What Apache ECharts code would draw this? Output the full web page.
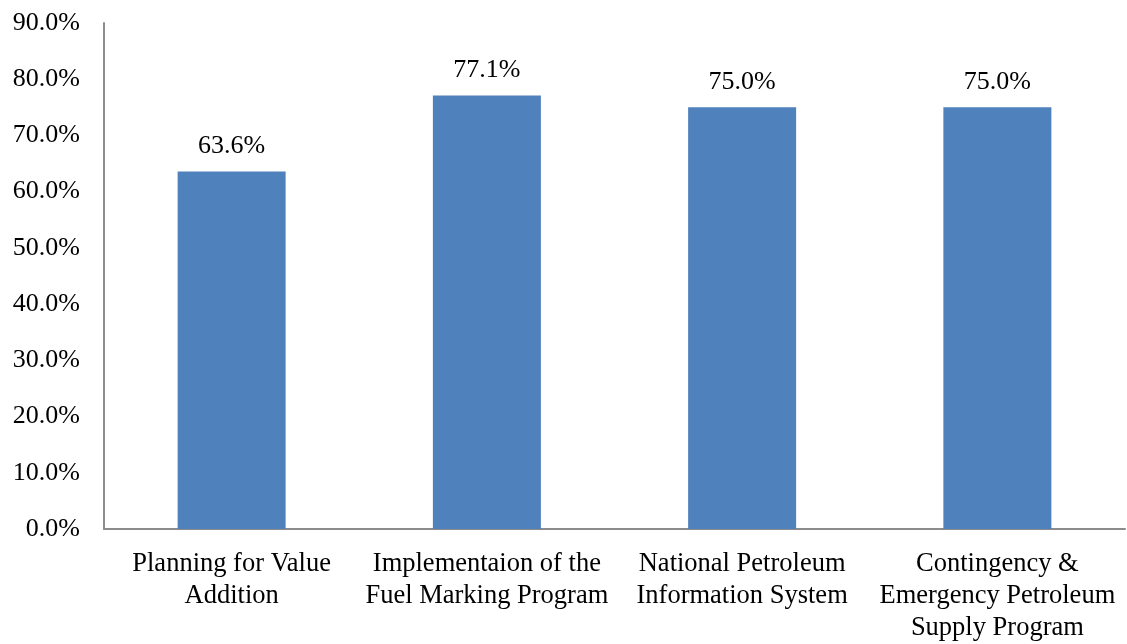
<!DOCTYPE html>
<html><head><meta charset="utf-8">
<script src="https://cdn.jsdelivr.net/npm/echarts@6/dist/echarts.min.js"></script>
<style>html,body{margin:0;padding:0;background:#fff}#c{width:1127px;height:644px}</style>
</head><body><div id="c"></div>
<script>
const categories = ["Planning for Value\nAddition", "Implementaion of the\nFuel Marking Program", "National Petroleum\nInformation System", "Contingency &\nEmergency Petroleum\nSupply Program"];
const values = [63.6, 77.1, 75.0, 75.0];
const font = '"Liberation Serif", "DejaVu Serif", serif';
const chart = echarts.init(document.getElementById('c'));
chart.setOption({
  animation: false,
  grid: {left: 104, right: 2, top: 23, bottom: 113},
  xAxis: {
    type: 'category', data: categories,
    axisLine: {lineStyle: {color: '#8c8c8c', width: 2}},
    axisTick: {show: false},
    axisLabel: {interval: 0, color: '#000', fontFamily: font, fontSize: 26.5, lineHeight: 32, margin: 19}
  },
  yAxis: {
    type: 'value', min: 0, max: 90, interval: 10,
    axisLine: {show: true, lineStyle: {color: '#8c8c8c', width: 2}},
    axisTick: {show: false},
    splitLine: {show: false},
    axisLabel: {color: '#000', fontFamily: font, fontSize: 26, margin: 24, formatter: v => v.toFixed(1) + '%'}
  },
  series: [{
    type: 'bar', data: values, barWidth: 108,
    itemStyle: {color: '#4F81BD'},
    label: {show: true, position: 'top', distance: 12, color: '#000', fontFamily: font, fontSize: 26, formatter: p => p.value.toFixed(1) + '%'}
  }]
});
</script></body></html>
